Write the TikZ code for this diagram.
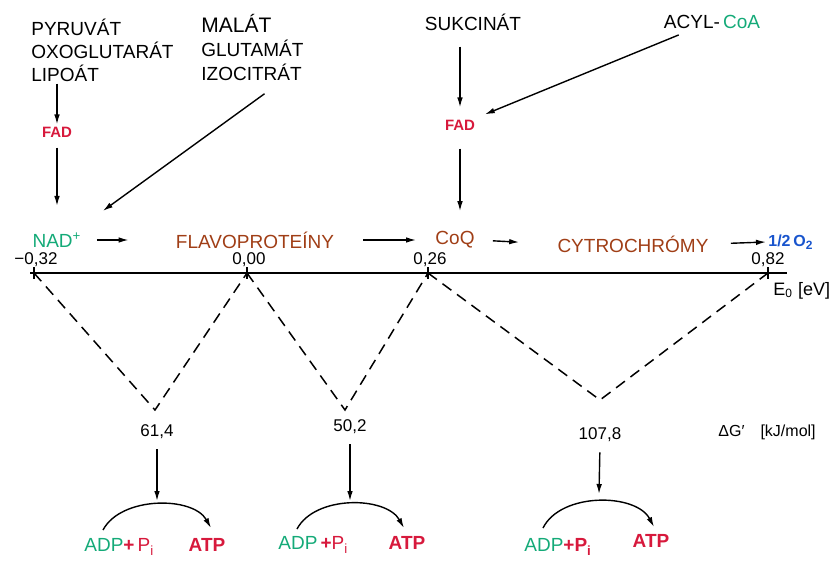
\documentclass[tikz,border=0pt]{standalone}
\usepackage{fontspec}
\setmainfont{Liberation Sans}
\usepackage{xcolor}
\usetikzlibrary{arrows.meta,positioning}
\definecolor{nadgreen}{RGB}{20,170,120}
\definecolor{fadred}{RGB}{215,25,60}
\definecolor{flavbrown}{RGB}{160,62,22}
\definecolor{oxblue}{RGB}{25,85,205}
\begin{document}
\begin{tikzpicture}[x=0.5pt,y=-0.5pt]
		\tikzstyle{every node}+=[inner sep=1pt,font=\fontsize{9.5}{11.5}\selectfont]
		\tikzstyle{arr}=[-{Latex[length=5pt,width=2.8pt]},line width=0.7pt]
		\tikzstyle{fad}=[text=fadred,font=\fontsize{7.5}{9}\selectfont\bfseries]
		\tikzstyle{carrier}=[text=flavbrown]
		\tikzstyle{val}=[font=\fontsize{8.5}{10}\selectfont]
		\tikzstyle{vline}=[dash pattern=on 5.5pt off 3.5pt,line width=0.75pt]
		\tikzstyle{atp}=[text=fadred,font=\fontsize{9.5}{11.5}\selectfont\bfseries]
		\useasboundingbox (0,0) rectangle (832,563);
		% substrates
		\node[anchor=west] (pyr) at (29,27) {PYRUVÁT};
		\node[anchor=west] (oxo) at (29,50) {OXOGLUTARÁT};
		\node[anchor=west] (lipo) at (29,73) {LIPOÁT};
		\node[anchor=west,font=\fontsize{10.5}{12}\selectfont] (mal) at (199,23) {MALÁT};
		\node[anchor=west] (glu) at (199,48) {GLUTAMÁT};
		\node[anchor=west] (izo) at (199,72) {IZOCITRÁT};
		\node (suk) at (473,22) {SUKCINÁT};
		\node (acyl) at (712,22) {ACYL-\,\textcolor{nadgreen}{CoA}};
		\node[fad] (fadA) at (57,132) {FAD};
		\node[fad] (fadB) at (460,125) {FAD};
		% chain
		\node[text=nadgreen] (nad) at (57,240) {NAD\textsuperscript{+}};
		\node[carrier] (flav) at (255,240) {FLAVOPROTEÍNY};
		\node[carrier] (coq) at (455,240) {CoQ};
		\node[carrier] (cyt) at (633,244) {CYTROCHRÓMY};
		\node[text=oxblue,font=\fontsize{8}{10}\selectfont\bfseries,anchor=west] (oxy) at (766,242) {1/2\,O\textsubscript{2}};
		\draw[arr] (fadA |- lipo.south) -- (fadA.north);
		\draw[arr,shorten <=4pt,shorten >=12pt] (fadA.south) -- (nad.north);
		\draw[arr] ([shift={(13,11)}]izo.south) -- ([shift={(19,-19)}]nad.north east);
		\draw[arr,shorten <=7pt,shorten >=5pt] (fadB.north |- suk.south) -- (fadB.north);
		\draw[arr,shorten <=5pt,shorten >=4pt] ([xshift=-12pt]acyl.south) -- (fadB.north east);
		\draw[arr,shorten <=8pt,shorten >=9pt] (fadB.south) -- (fadB.south |- coq.north);
		\draw[arr,shorten <=6.5pt,shorten >=22.5pt] (nad.east) -- (flav.west);
		\draw[arr,shorten <=13.5pt,shorten >=8.5pt] (flav.east) -- (coq.west);
		\draw[arr,shorten <=8pt,shorten >=18pt] (coq.east) -- (cyt.west);
		\draw[arr,shorten <=10pt,shorten >=0pt] (cyt.east) -- (oxy.west);
		% potential axis
		\draw[line width=1pt] (30,273) -- (787,273);
		\coordinate (t1) at (34,273);
		\coordinate (t2) at (247,273);
		\coordinate (t3) at (428,273);
		\coordinate (t4) at (768,273);
		\foreach \t in {t1,t2,t3,t4}
			\draw[line width=1pt] ([yshift=3pt]\t) -- ([yshift=-3pt]\t);
		\node[val,anchor=south] (e1) at (36,269) {−0,32};
		\node[val,anchor=south] (e2) at (249,269) {0,00};
		\node[val,anchor=south] (e3) at (430,269) {0,26};
		\node[val,anchor=south] (e4) at (768,269) {0,82};
		\node[anchor=west,font=\fontsize{9}{11}\selectfont] (eo) at (771,291) {E\textsubscript{0} [eV]};
		% free energy
		\coordinate (v1) at (155,410);
		\coordinate (v2) at (345,410);
		\coordinate (v3) at (600,400);
		\draw[vline] (t1) -- (v1) -- (t2);
		\draw[vline] (t2) -- (v2) -- (t3);
		\draw[vline] (t3) -- (v3) -- (t4);
		\node[val] (dg1) at (157,432) {61,4};
		\node[val] (dg2) at (350,427) {50,2};
		\node[val] (dg3) at (600,435) {107,8};
		\node[anchor=west,font=\fontsize{8}{10}\selectfont] (unit) at (716,432) {ΔG′\quad[kJ/mol]};
		% phosphorylation
		\node[anchor=west] (adp1) at (82,547) {\textcolor{nadgreen}{ADP}\textcolor{fadred}{\textbf{+}\,P\textsubscript{i}}};
		\node[atp] (atp1) at (207,545) {ATP};
		\node[anchor=west] (adp2) at (276,545) {\textcolor{nadgreen}{ADP}\,\textcolor{fadred}{\textbf{+}P\textsubscript{i}}};
		\node[atp] (atp2) at (407,543) {ATP};
		\node[anchor=west] (adp3) at (522,547) {\textcolor{nadgreen}{ADP}\textcolor{fadred}{\bfseries +P\textsubscript{i}}};
		\node[atp] (atp3) at (651,541) {ATP};
		\coordinate (c1) at (157,501);
		\coordinate (c2) at (350,501);
		\coordinate (c3) at (599,494);
		\draw[arr,shorten <=4pt] (dg1.south) -- (c1);
		\draw[arr,shorten <=4pt] (dg2.south) -- (c2);
		\draw[arr,shorten <=4pt] (dg3.south) -- (c3);
		\draw[arr] (103,530) .. controls +(18,-34) and +(-18,-32) .. (211,528);
		\draw[arr] (297,529) .. controls +(18,-34) and +(-18,-32) .. (404,528);
		\draw[arr] (543,528) .. controls +(18,-36) and +(-18,-34) .. (654,527);
	\end{tikzpicture}
\end{document}
